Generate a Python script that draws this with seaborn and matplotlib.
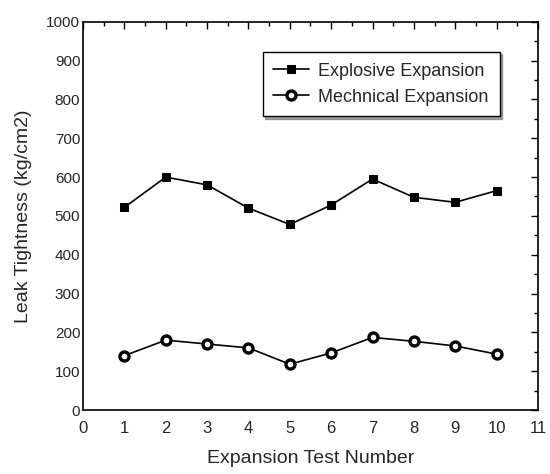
import numpy as np
import pandas as pd
import matplotlib
matplotlib.use('Agg')
import matplotlib.pyplot as plt
from matplotlib.ticker import MultipleLocator
import seaborn as sns

# Values
test_number = [1, 2, 3, 4, 5, 6, 7, 8, 9, 10]
explosive = [522, 600, 580, 520, 478, 528, 595, 548, 535, 565]
mechanical = [140, 180, 170, 160, 118, 147, 187, 177, 165, 144]
series_names = ['Explosive Expansion', 'Mechnical Expansion']

exp_df = pd.DataFrame({'test': test_number, 'leak': explosive})
mech_df = pd.DataFrame({'test': test_number, 'leak': mechanical})

sns.set_style('white')
plt.rcParams['font.family'] = ['Liberation Sans', 'DejaVu Sans']

fig = plt.figure(figsize=(5.5, 4.74), dpi=100)
ax = fig.add_axes([0.151, 0.135, 0.827, 0.819])

sns.lineplot(data=exp_df, x='test', y='leak', color='black', marker='s',
             markersize=6, markeredgecolor='black', linewidth=1.2,
             label=series_names[0], ax=ax)
sns.lineplot(data=mech_df, x='test', y='leak', color='black', marker='o',
             markersize=6.5, markerfacecolor='white', markeredgecolor='black',
             markeredgewidth=2.4, linewidth=1.2, label=series_names[1], ax=ax)

ax.set_xlim(0, 11)
ax.set_ylim(0, 1000)
ax.xaxis.set_major_locator(MultipleLocator(1))
ax.xaxis.set_minor_locator(MultipleLocator(0.5))
ax.yaxis.set_major_locator(MultipleLocator(100))
ax.yaxis.set_minor_locator(MultipleLocator(50))
ax.tick_params(which='both', direction='in', top=True, right=True, color='black')
ax.tick_params(which='major', length=5, width=1)
ax.tick_params(which='minor', length=3, width=1)
ax.tick_params(axis='x', labelsize=12, pad=8)
ax.tick_params(axis='y', labelsize=11, pad=2)
for s in ax.spines.values():
    s.set_color('black')
    s.set_linewidth(1.2)

ax.set_xlabel('Expansion Test Number', fontsize=14, labelpad=10)
ax.set_ylabel('Leak Tightness (kg/cm2)', fontsize=14, labelpad=10)

ax.legend(loc='upper right', bbox_to_anchor=(0.916, 0.923),
          fontsize=13, frameon=True, fancybox=False, shadow=True,
          edgecolor='black', handlelength=2.0, handletextpad=0.5,
          borderpad=0.6, labelspacing=0.5, borderaxespad=0)

fig.savefig('out.png', dpi=100)
